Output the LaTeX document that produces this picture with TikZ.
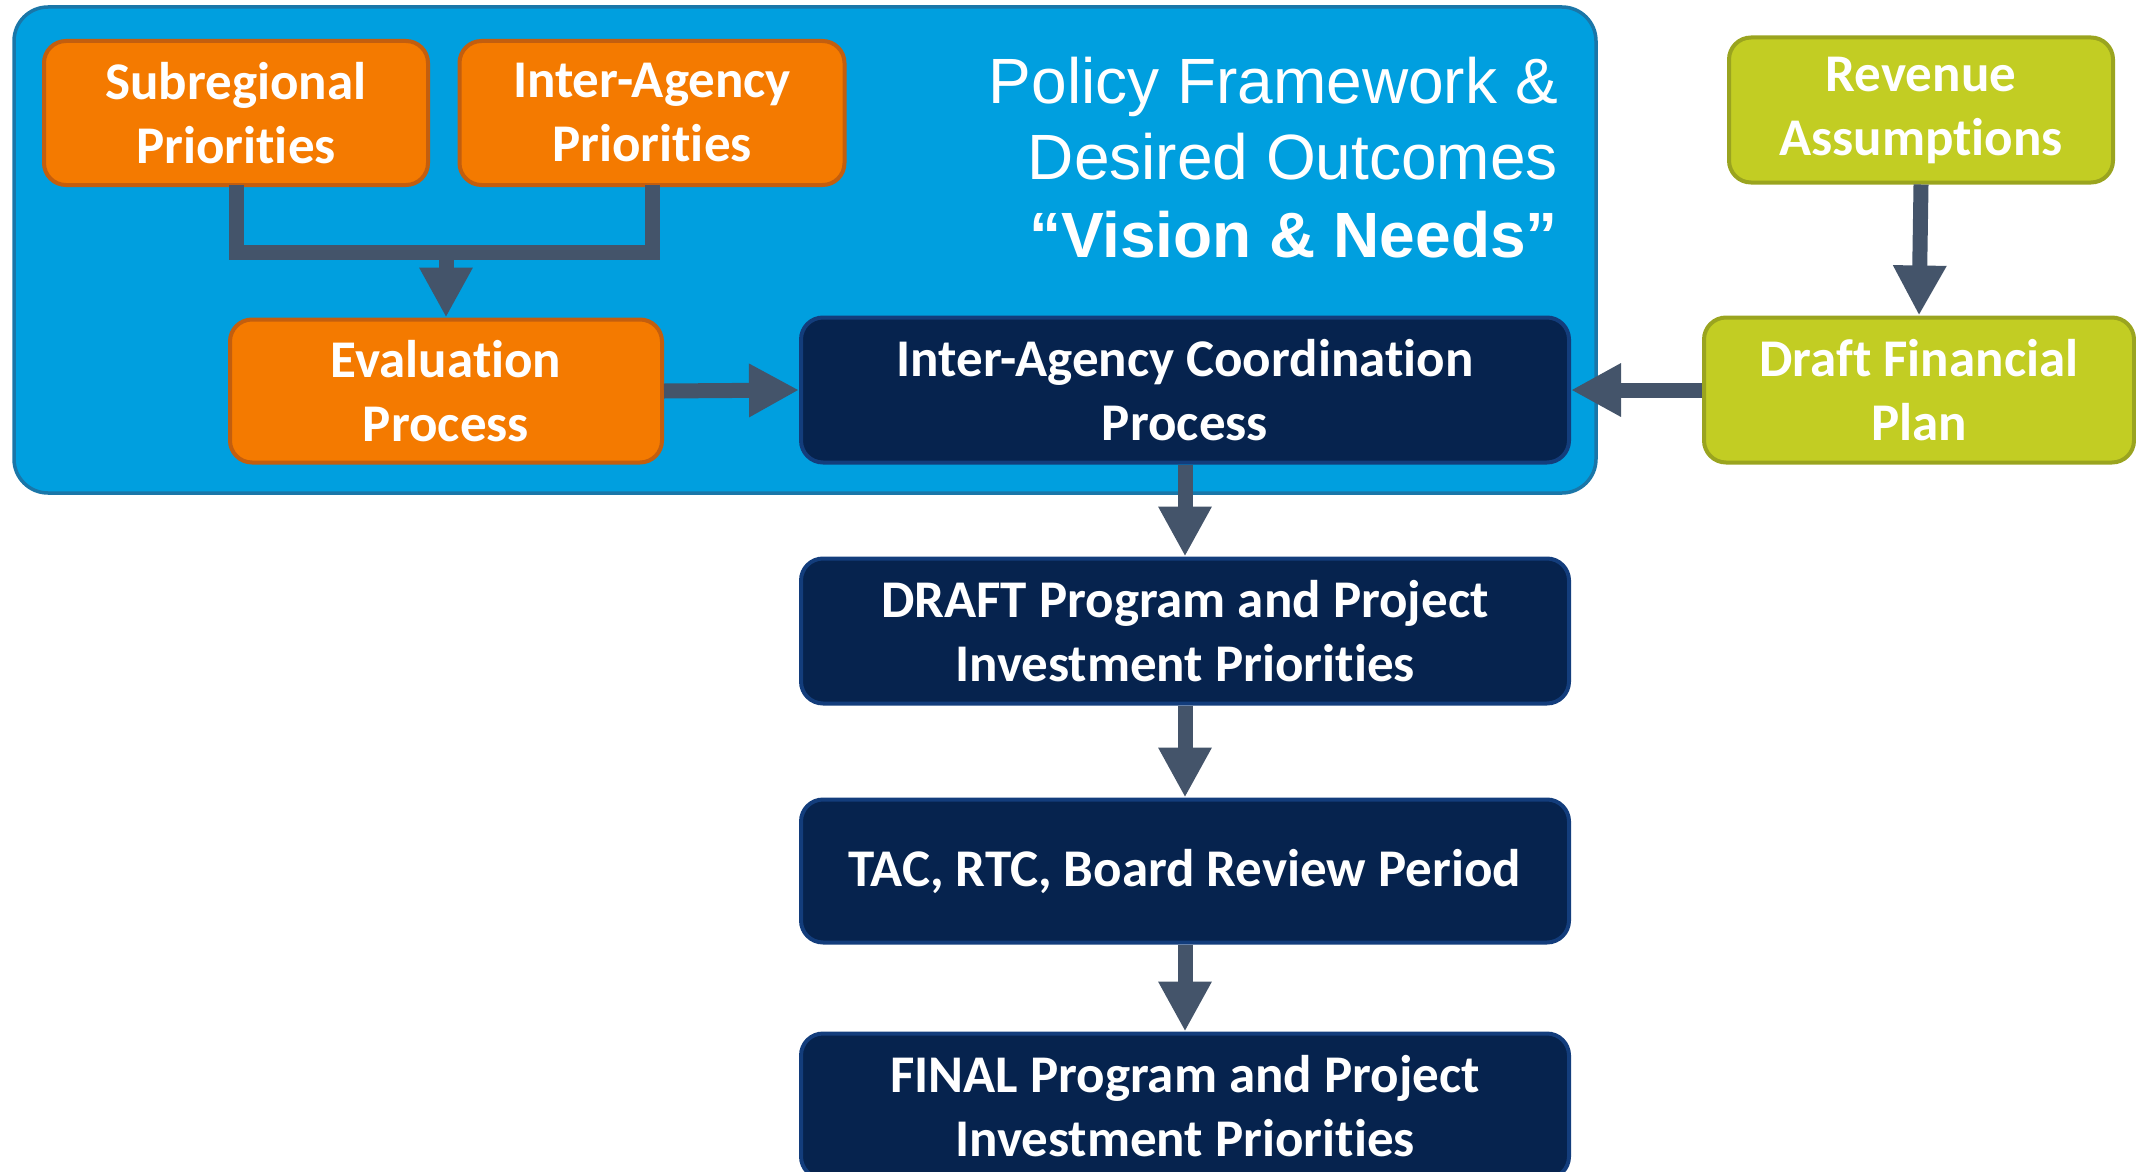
\documentclass[tikz,border=0pt]{standalone}
\usepackage{fontspec}
\setmainfont[Ligatures=NoCommon,RawFeature=-calt]{Carlito}
\newfontfamily\titlefont{Liberation Sans}
\usetikzlibrary{arrows.meta}
\definecolor{bgblue}{HTML}{009FDF}
\definecolor{bgblueborder}{HTML}{1A76A8}
\definecolor{orng}{HTML}{F47A00}
\definecolor{orngborder}{HTML}{C35E0E}
\definecolor{navy}{HTML}{06234E}
\definecolor{navyborder}{HTML}{133D7C}
\definecolor{lime}{HTML}{C2CD23}
\definecolor{limeborder}{HTML}{9AA41F}
\definecolor{arrowc}{HTML}{44546A}
\begin{document}
\begin{tikzpicture}[x=1pt,y=-1pt,
  boxbase/.style={rectangle, rounded corners=22pt, line width=4pt, text=white,
    align=center, font=\fontsize{53}{64}\selectfont\bfseries, inner sep=0pt},
  orangebox/.style={boxbase, fill=orng, draw=orngborder},
  navybox/.style={boxbase, fill=navy, draw=navyborder},
  limebox/.style={boxbase, fill=lime, draw=limeborder},
  titletext/.style={anchor=base east, text=white, inner sep=0pt, font=\titlefont\fontsize{64}{76}\selectfont},
  conn/.style={draw=arrowc, line width=15pt, line join=miter},
  arr/.style={conn, -{Triangle[length=50pt,width=50pt]}}]
\useasboundingbox (0,0) rectangle (2136,1172);
% background panel
\draw[fill=bgblue, draw=bgblueborder, line width=3.5pt, rounded corners=34pt]
  (14,7) rectangle (1596,493);
% title
\node[titletext] (title1) at (1558,103) {Policy Framework \&};
\node[titletext] (title2) at (1558,179) {Desired Outcomes};
\node[titletext, font=\titlefont\fontsize{64}{76}\selectfont\bfseries] (title3) at (1558,257) {“Vision \& Needs”};
% nodes
\node[orangebox, minimum width=384pt, minimum height=144pt] (sub) at (236,113) {Subregional\\Priorities};
\node[orangebox, minimum width=385pt, minimum height=144pt] (iap) at (652,113) {Inter-Agency\\Priorities};
\node[orangebox, minimum width=432pt, minimum height=143pt] (eval) at (446,391) {Evaluation\\Process};
\node[navybox, minimum width=768pt, minimum height=145pt] (coord) at (1185,390) {Inter-Agency Coordination\\Process};
\node[limebox, minimum width=384pt, minimum height=145pt] (rev) at (1921,110) {Revenue\\Assumptions};
\node[limebox, minimum width=430pt, minimum height=145pt] (dfp) at (1919,390) {Draft Financial\\Plan};
\node[navybox, minimum width=768pt, minimum height=145pt] (draft) at (1185,631) {DRAFT Program and Project\\Investment Priorities};
\node[navybox, minimum width=768pt, minimum height=143pt] (tac) at (1185,871) {TAC, RTC, Board Review Period};
\node[navybox, minimum width=768pt, minimum height=145pt] (final) at (1185,1106) {FINAL Program and Project\\Investment Priorities};
% connectors
\coordinate (mid) at (446,252);
\draw[conn] ([yshift=2pt]sub.south) |- (mid) -| ([yshift=2pt]iap.south);
\draw[arr] ([yshift=-7pt]mid) -- (eval.north);
\draw[arr] (eval.east) -- (coord.west);
\draw[arr] (dfp.west) -- (coord.east);
\draw[arr] (rev.south) -- (dfp.north);
\draw[arr] (coord.south) -- (draft.north);
\draw[arr] (draft.south) -- (tac.north);
\draw[arr] (tac.south) -- (final.north);
\end{tikzpicture}
\end{document}
